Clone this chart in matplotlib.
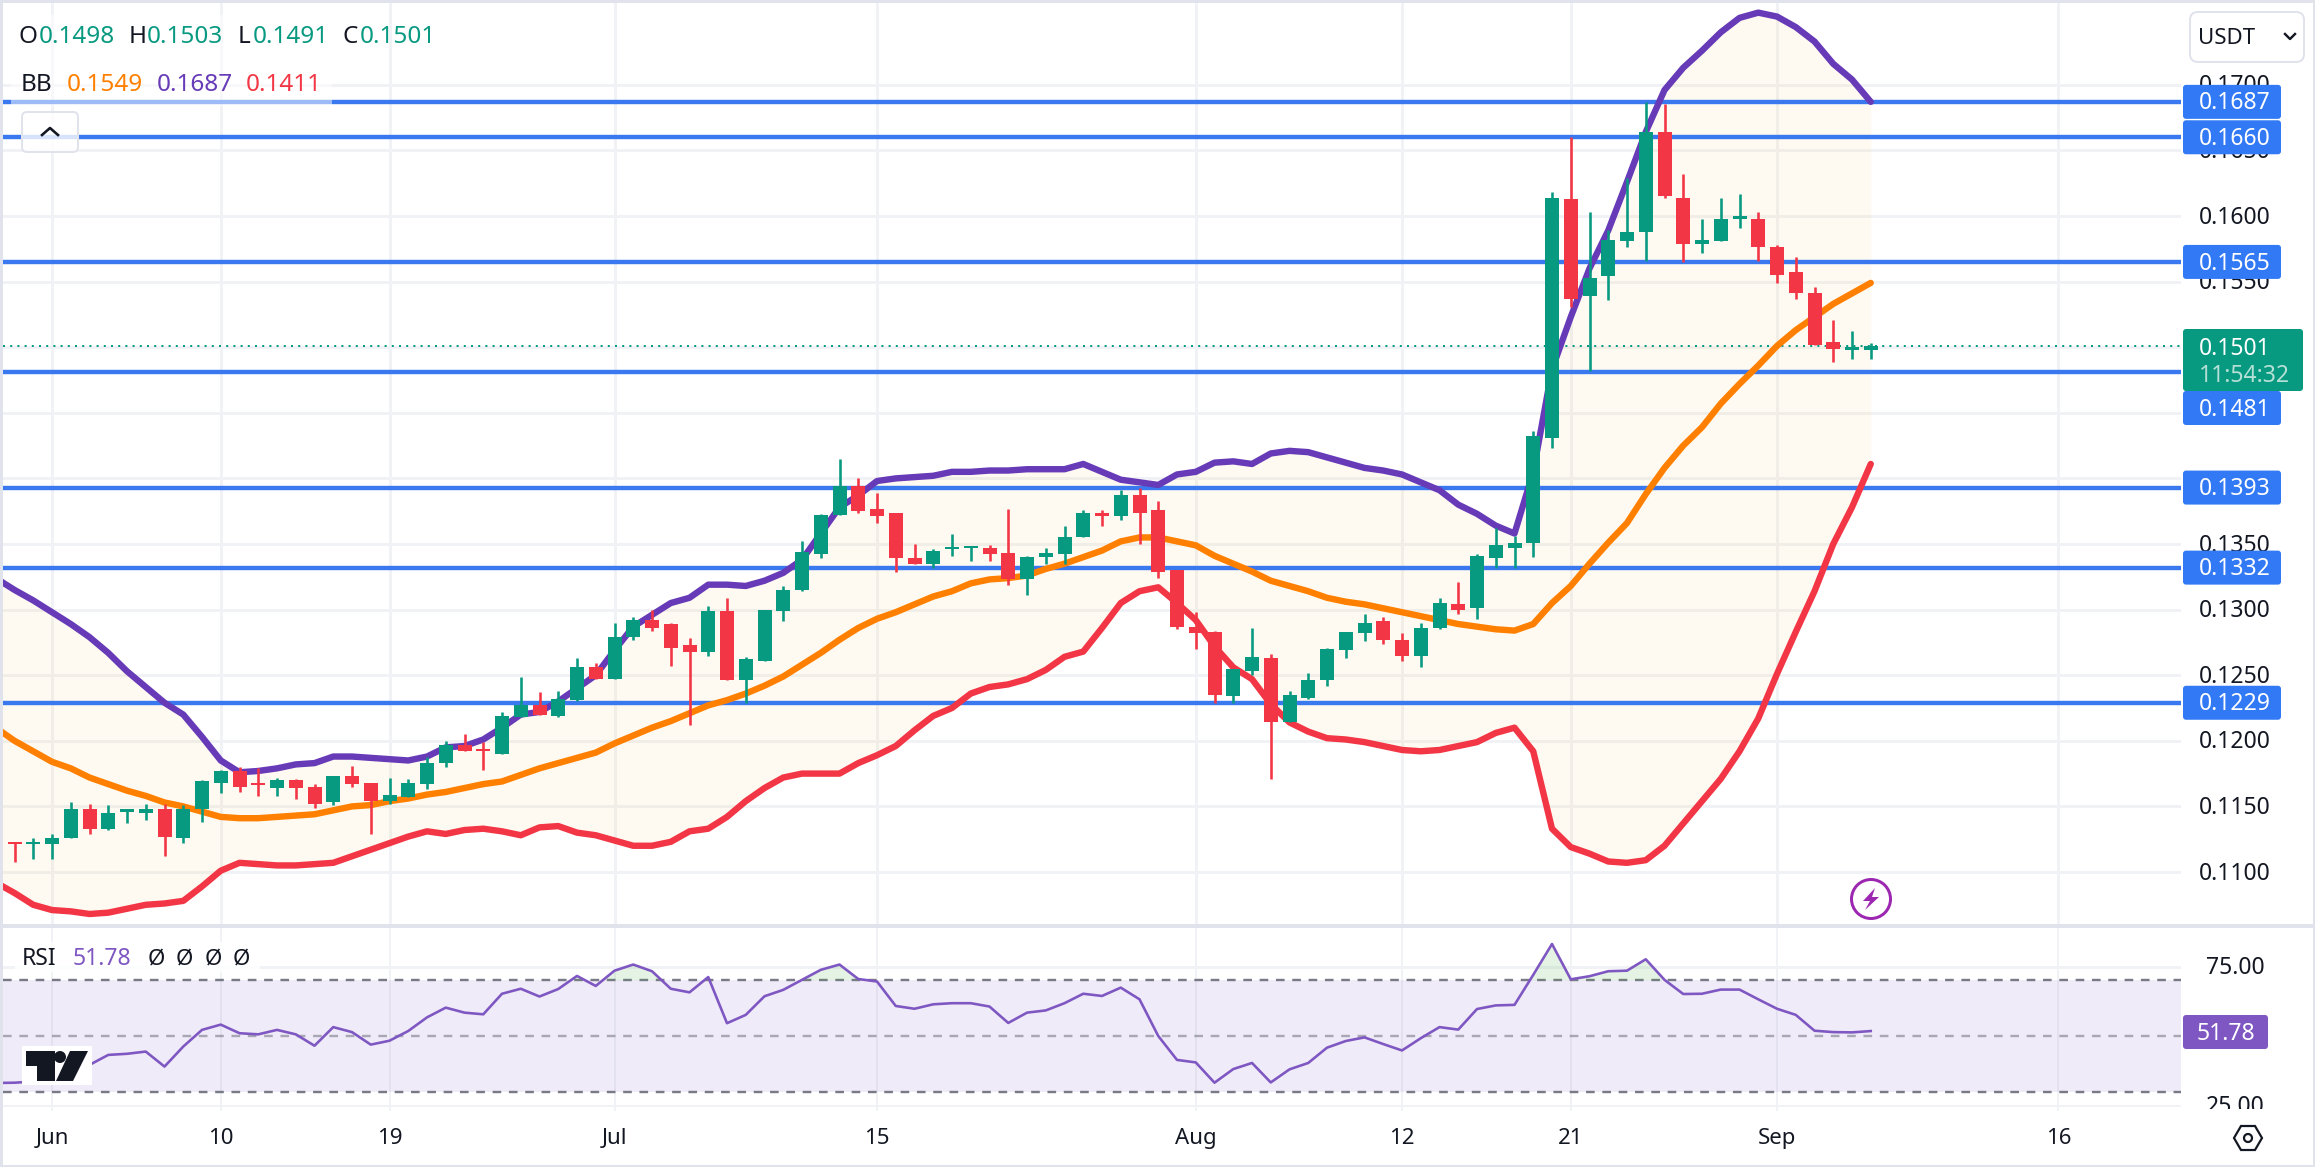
import numpy as np
import matplotlib
matplotlib.use("Agg")
import matplotlib.pyplot as plt
from matplotlib.patches import Rectangle, FancyBboxPatch, Circle, Polygon

W, H = 2315, 1167

# daily candles, first one is 30 May
opens = [0.1122,0.1121,0.1121,0.1126,0.1148,0.1133,0.1146,0.1145,0.1148,0.1126,
         0.1148,0.1168,0.1177,0.1167,0.1164,0.1170,0.1165,0.1153,0.1173,0.1168,
         0.1154,0.1157,0.1167,0.1183,0.1197,0.1193,0.1190,0.1218,0.1227,0.1219,
         0.1231,0.1256,0.1247,0.1279,0.1292,0.1289,0.1273,0.1268,0.1299,0.1246,
         0.1261,0.1299,0.1315,0.1342,0.1372,0.1394,0.1377,0.1374,0.1339,0.1335,
         0.1346,0.1347,0.1347,0.1343,0.1323,0.1340,0.1342,0.1355,0.1374,0.1371,
         0.1387,0.1376,0.1330,0.1287,0.1283,0.1234,0.1253,0.1263,0.1214,0.1233,
         0.1246,0.1269,0.1282,0.1291,0.1277,0.1265,0.1286,0.1304,0.1301,0.1339,
         0.1347,0.1351,0.1431,0.1613,0.1539,0.1554,0.1581,0.1588,0.1664,0.1614,
         0.1579,0.1581,0.1598,0.1598,0.1576,0.1557,0.1541,0.1504,0.1498,0.1498]
highs = [0.1123,0.1126,0.1129,0.1153,0.1152,0.1151,0.1148,0.1152,0.1152,0.1151,
         0.1170,0.1178,0.1180,0.1179,0.1172,0.1171,0.1167,0.1173,0.1181,0.1168,
         0.1172,0.1171,0.1188,0.1200,0.1205,0.1199,0.1222,0.1249,0.1237,0.1238,
         0.1263,0.1259,0.1290,0.1294,0.1300,0.1290,0.1278,0.1303,0.1309,0.1264,
         0.1300,0.1318,0.1352,0.1373,0.1415,0.1400,0.1389,0.1374,0.1350,0.1346,
         0.1358,0.1348,0.1349,0.1377,0.1341,0.1347,0.1364,0.1376,0.1376,0.1391,
         0.1393,0.1383,0.1330,0.1298,0.1284,0.1255,0.1286,0.1266,0.1238,0.1252,
         0.1271,0.1283,0.1297,0.1294,0.1282,0.1290,0.1309,0.1321,0.1342,0.1362,
         0.1356,0.1436,0.1618,0.1660,0.1603,0.1589,0.1629,0.1687,0.1685,0.1632,
         0.1598,0.1614,0.1617,0.1603,0.1578,0.1569,0.1546,0.1521,0.1512,0.1503]
lows = [0.1108,0.1110,0.1110,0.1126,0.1129,0.1132,0.1137,0.1140,0.1112,0.1122,
        0.1138,0.1160,0.1161,0.1158,0.1158,0.1156,0.1149,0.1151,0.1165,0.1129,
        0.1152,0.1157,0.1163,0.1180,0.1192,0.1178,0.1190,0.1218,0.1220,0.1218,
        0.1230,0.1247,0.1247,0.1277,0.1284,0.1257,0.1212,0.1265,0.1246,0.1229,
        0.1261,0.1291,0.1314,0.1339,0.1372,0.1374,0.1366,0.1329,0.1335,0.1332,
        0.1341,0.1337,0.1337,0.1319,0.1311,0.1335,0.1335,0.1355,0.1364,0.1368,
        0.1350,0.1324,0.1285,0.1270,0.1229,0.1229,0.1250,0.1171,0.1214,0.1232,
        0.1242,0.1263,0.1276,0.1274,0.1261,0.1256,0.1285,0.1297,0.1293,0.1332,
        0.1332,0.1340,0.1423,0.1531,0.1482,0.1536,0.1576,0.1566,0.1614,0.1565,
        0.1572,0.1581,0.1591,0.1566,0.1549,0.1537,0.1502,0.1489,0.1491,0.1491]
closes = [0.1121,0.1122,0.1126,0.1148,0.1133,0.1145,0.1147,0.1148,0.1127,0.1148,
          0.1169,0.1177,0.1165,0.1166,0.1170,0.1164,0.1152,0.1173,0.1167,0.1154,
          0.1159,0.1168,0.1183,0.1197,0.1192,0.1192,0.1219,0.1227,0.1220,0.1232,
          0.1256,0.1247,0.1279,0.1292,0.1286,0.1271,0.1268,0.1299,0.1246,0.1262,
          0.1300,0.1315,0.1344,0.1372,0.1394,0.1375,0.1371,0.1339,0.1335,0.1345,
          0.1348,0.1348,0.1342,0.1323,0.1340,0.1343,0.1355,0.1374,0.1371,0.1387,
          0.1374,0.1329,0.1287,0.1282,0.1235,0.1255,0.1264,0.1214,0.1235,0.1246,
          0.1270,0.1283,0.1290,0.1277,0.1265,0.1286,0.1305,0.1300,0.1341,0.1349,
          0.1351,0.1432,0.1614,0.1537,0.1553,0.1582,0.1588,0.1664,0.1615,0.1579,
          0.1582,0.1598,0.1599,0.1576,0.1555,0.1541,0.1502,0.1499,0.1499,0.1501]

# indicators have one more point, the day before the first candle
bb_upper = [0.1324,0.1315,0.1307,0.1298,0.1289,0.1279,0.1267,0.1253,0.1241,0.1229,
            0.1220,0.1203,0.1185,0.1176,0.1177,0.1179,0.1182,0.1183,0.1188,0.1188,
            0.1187,0.1186,0.1185,0.1188,0.1195,0.1196,0.1201,0.1210,0.1220,0.1222,
            0.1230,0.1240,0.1250,0.1269,0.1287,0.1296,0.1305,0.1309,0.1319,0.1319,
            0.1318,0.1322,0.1328,0.1338,0.1358,0.1378,0.1387,0.1398,0.1400,0.1401,
            0.1402,0.1405,0.1405,0.1406,0.1406,0.1407,0.1407,0.1407,0.1411,0.1405,
            0.1399,0.1397,0.1395,0.1403,0.1405,0.1412,0.1413,0.1411,0.1419,0.1421,
            0.1420,0.1416,0.1412,0.1408,0.1406,0.1403,0.1397,0.1391,0.1380,0.1373,
            0.1364,0.1358,0.1405,0.1483,0.1523,0.1560,0.1589,0.1626,0.1664,0.1696,
            0.1713,0.1726,0.1740,0.1751,0.1755,0.1752,0.1744,0.1733,0.1716,0.1704,0.1687]
bb_mid = [0.1210,0.1200,0.1192,0.1184,0.1179,0.1172,0.1167,0.1162,0.1158,0.1153,
          0.1150,0.1146,0.1142,0.1141,0.1141,0.1142,0.1143,0.1144,0.1147,0.1150,
          0.1151,0.1154,0.1156,0.1159,0.1161,0.1164,0.1167,0.1169,0.1174,0.1179,
          0.1183,0.1187,0.1191,0.1198,0.1204,0.1210,0.1215,0.1221,0.1227,0.1231,
          0.1236,0.1242,0.1249,0.1258,0.1267,0.1277,0.1286,0.1293,0.1298,0.1304,
          0.1310,0.1314,0.1320,0.1323,0.1324,0.1326,0.1331,0.1335,0.1340,0.1345,
          0.1352,0.1355,0.1355,0.1352,0.1349,0.1341,0.1335,0.1329,0.1322,0.1318,
          0.1314,0.1309,0.1306,0.1304,0.1301,0.1298,0.1295,0.1292,0.1289,0.1287,
          0.1285,0.1284,0.1289,0.1305,0.1318,0.1335,0.1351,0.1366,0.1388,0.1408,
          0.1425,0.1439,0.1457,0.1472,0.1486,0.1501,0.1513,0.1523,0.1533,0.1541,0.1549]
bb_lower = [0.1092,0.1084,0.1075,0.1071,0.1070,0.1068,0.1069,0.1072,0.1075,0.1076,
            0.1078,0.1089,0.1101,0.1107,0.1106,0.1105,0.1105,0.1106,0.1107,0.1112,
            0.1117,0.1122,0.1127,0.1131,0.1129,0.1132,0.1133,0.1131,0.1128,0.1134,
            0.1135,0.1130,0.1128,0.1124,0.1120,0.1120,0.1123,0.1131,0.1133,0.1142,
            0.1154,0.1164,0.1172,0.1175,0.1175,0.1175,0.1183,0.1189,0.1196,0.1208,
            0.1219,0.1225,0.1236,0.1241,0.1243,0.1247,0.1254,0.1264,0.1268,0.1286,
            0.1305,0.1314,0.1317,0.1305,0.1292,0.1272,0.1256,0.1247,0.1228,0.1214,
            0.1207,0.1202,0.1201,0.1199,0.1196,0.1193,0.1192,0.1193,0.1196,0.1199,
            0.1206,0.1210,0.1192,0.1133,0.1119,0.1114,0.1108,0.1107,0.1109,0.1120,
            0.1137,0.1154,0.1171,0.1192,0.1217,0.1251,0.1283,0.1314,0.1350,0.1378,0.1411]
rsi = [33.1,33.2,33.6,36.0,36.6,39.6,43.2,43.6,44.4,39.0,46.2,52.2,54.1,51.0,50.6,
       52.2,50.6,46.5,53.2,51.4,46.9,48.3,51.8,56.7,60.2,58.4,57.8,65.2,67.0,64.2,
       66.9,71.6,68.0,73.5,75.7,73.3,67.0,65.7,71.2,54.6,57.6,64.3,66.6,70.2,73.8,
       75.7,70.5,69.6,60.8,59.8,61.4,61.8,61.8,60.6,54.7,58.4,59.2,61.8,65.2,64.4,
       67.4,63.2,50.0,41.4,40.5,33.2,38.1,40.3,33.3,38.0,40.3,45.8,48.2,49.5,47.1,
       44.8,49.2,53.2,52.3,59.7,61.0,61.2,72.0,83.1,70.4,71.5,73.3,73.5,77.6,70.2,
       65.1,65.2,66.7,66.7,63.2,59.8,57.6,51.9,51.4,51.3,51.78]

levels = [0.1687, 0.1660, 0.1565, 0.1481, 0.1393, 0.1332, 0.1229]
price_grid = [0.11, 0.115, 0.12, 0.125, 0.13, 0.135, 0.14, 0.145, 0.15, 0.155, 0.16, 0.165, 0.17]
# labels the chart really shows, the others sit fully under a tag
price_ticks = [0.11, 0.115, 0.12, 0.125, 0.13, 0.135, 0.155, 0.16, 0.165, 0.17]
rsi_ticks = [75, 25]
date_pos = [2, 11, 20, 32, 46, 63, 74, 83, 94, 109]
date_labels = ["Jun", "10", "19", "Jul", "15", "Aug", "12", "21", "Sep", "16"]
last_price = 0.1501

GREEN = "#089981"
RED = "#F23645"
BLUE = "#3a78f0"
PURPLE = "#673AB7"
ORANGE = "#FF8000"
RSI_COL = "#7E57C2"
GRID = "#f1f2f5"
DARK = "#131722"
FRAME = "#E0E3EB"

plt.rcParams["font.family"] = ["Noto Sans", "DejaVu Sans"]


def px_rect(x0, y0, x1, y1):
    return [x0 / W, 1 - y1 / H, (x1 - x0) / W, (y1 - y0) / H]


def price_y(p):
    return 216 + (0.16 - p) * 13120


def rsi_y(v):
    return 1036 + (50 - v) * 2.78


def pt(px):
    return px * 72 / 100


fig = plt.figure(figsize=(W / 100, H / 100), dpi=100, facecolor="white")

ax = fig.add_axes(px_rect(3, 3, 2181, 924))
ax2 = fig.add_axes(px_rect(3, 927, 2181, 1107))
xlim = ((3 - 14.5) / 18.75, (2181 - 14.5) / 18.75)

idx = np.arange(len(opens))
idx_ind = np.arange(-1, len(opens))
o, h, l, c = map(np.array, (opens, highs, lows, closes))
up = c >= o
cols = np.where(up, GREEN, RED)

# main pane
ax.set_xlim(*xlim)
ax.set_ylim(0.16 - (924 - 216) / 13120, 0.16 - (3 - 216) / 13120)
ax.axis("off")
for p in price_grid:
    ax.axhline(p, color=GRID, lw=pt(3), zorder=1)
for d in date_pos:
    ax.axvline(d, color=GRID, lw=pt(3), zorder=1)
ax.fill_between(idx_ind, bb_lower, bb_upper, color="#FFB300", alpha=0.055, lw=0, zorder=2)
for lv in levels:
    ax.axhline(lv, color=BLUE, lw=pt(4.4), zorder=3)
ax.axhline(last_price, color=GREEN, lw=pt(2), ls=(0, (1, 2.6)), zorder=3.5)
ax.plot(idx_ind, bb_upper, color=PURPLE, lw=pt(6.4), zorder=4, solid_capstyle="round", solid_joinstyle="round")
ax.plot(idx_ind, bb_mid, color=ORANGE, lw=pt(6.4), zorder=4, solid_capstyle="round", solid_joinstyle="round")
ax.plot(idx_ind, bb_lower, color=RED, lw=pt(6.4), zorder=4, solid_capstyle="round", solid_joinstyle="round")
ax.vlines(idx, l, h, colors=cols, lw=pt(2.6), zorder=5)
ax.bar(idx, np.maximum(np.abs(c - o), 0.00018), bottom=np.minimum(o, c), width=14 / 18.75, color=cols, lw=0, zorder=6)

# rsi pane
ax2.set_xlim(*xlim)
ax2.set_ylim(50 + (1036 - 1107) / 2.78, 50 + (1036 - 927) / 2.78)
ax2.axis("off")
for d in date_pos:
    ax2.axvline(d, color=GRID, lw=pt(2), zorder=1)
for v in rsi_ticks:
    ax2.axhline(v, color=GRID, lw=pt(3), zorder=1)
ax2.axhspan(30, 70, color=RSI_COL, alpha=0.115, lw=0, zorder=2)
ax2.axhline(70, color="#787B86", lw=pt(2.4), ls=(0, (3.6, 3.2)), zorder=3)
ax2.axhline(50, color="#787B86", lw=pt(2.4), ls=(0, (3.6, 3.2)), alpha=0.6, zorder=3)
ax2.axhline(30, color="#787B86", lw=pt(2.4), ls=(0, (3.6, 3.2)), zorder=3)
rsi_arr = np.array(rsi)
ax2.fill_between(idx_ind, 70, rsi_arr, where=rsi_arr > 70, interpolate=True, color="#4CAF50", alpha=0.15, lw=0, zorder=3)
ax2.plot(idx_ind, rsi_arr, color=RSI_COL, lw=pt(2.6), zorder=4)

# everything around the panes, in pixel coordinates
deco = fig.add_axes([0, 0, 1, 1], zorder=10)
deco.set_xlim(0, W)
deco.set_ylim(H, 0)
deco.axis("off")


def label(x, y, txt, **kw):
    # noto sits a little high compared to the original font
    kw.setdefault("va", "center")
    return deco.text(x, y + 1.6, txt, **kw)


for x0, y0, x1, y1 in [(0, 0, W, 3), (0, 0, 3, H), (2313, 0, W, H), (0, 1165, W, H), (3, 924, 2313, 927.5)]:
    deco.add_patch(Rectangle((x0, y0), x1 - x0, y1 - y0, color=FRAME, lw=0, zorder=1))

# date ticks
for d, lab in zip(date_pos, date_labels):
    xp = 14.5 + 18.75 * d
    deco.plot([xp, xp], [1107, 1110], color=GRID, lw=pt(2), zorder=1)
    label(xp, 1137, lab, ha="center", fontsize=16, color=DARK, zorder=2)

# price ticks, the tags go over them
for p in price_ticks:
    label(2235, price_y(p), f"{p:.4f}", ha="center", fontsize=16.5, color=DARK, zorder=2)
label(2235, rsi_y(75), "75.00", ha="center", fontsize=16.5, color=DARK, zorder=2)
t25 = label(2235, rsi_y(25), "25.00", ha="center", fontsize=16.5, color=DARK, zorder=2)
t25.set_clip_path(Rectangle((2183, 1080), 120, 29, transform=deco.transData))
t25.set_clip_on(True)


def tag(x0, x1, yc, hgt, col, txt, z=3):
    deco.add_patch(FancyBboxPatch((x0 + 2, yc - hgt / 2 + 2), x1 - x0 - 4, hgt - 4,
                                  boxstyle="round,pad=2,rounding_size=3", fc=col, ec="none", zorder=z))
    label(2235, yc, txt, ha="center", fontsize=16.5, color="white", zorder=z + 0.1)


for lv in levels:
    yc = price_y(lv)
    if lv == 0.1481:
        yc = 408  # pushed down by the last price tag
    tag(2183, 2281, yc, 34, "#3179F5", f"{lv:.4f}")

deco.add_patch(FancyBboxPatch((2185, 331), 116, 58, boxstyle="round,pad=2,rounding_size=3", fc=GREEN, ec="none", zorder=4))
label(2199, 347, f"{last_price:.4f}", ha="left", fontsize=16.5, color="white", zorder=5)
label(2199, 374, "11:54:32", ha="left", fontsize=16.5, color="#b5e0d6", zorder=5)

deco.add_patch(FancyBboxPatch((2185, 1017), 81, 30, boxstyle="round,pad=2,rounding_size=3", fc=RSI_COL, ec="none", zorder=3))
label(2226, 1032, "51.78", ha="center", fontsize=16.5, color="white", zorder=4)

# currency box
deco.add_patch(FancyBboxPatch((2193, 15), 108, 44, boxstyle="round,pad=3,rounding_size=8", fc="white", ec=FRAME, lw=pt(2), zorder=3))
label(2198, 37, "USDT", ha="left", fontsize=16, color=DARK, zorder=4)
deco.plot([2285, 2290, 2295], [34, 39, 34], color=DARK, lw=pt(2.4), zorder=4)

# legend
deco.add_patch(Rectangle((11, 15), 321, 91, color="white", alpha=0.5, lw=0, zorder=1))
for x, txt, col in [(19, "O", DARK), (39, "0.1498", GREEN), (129, "H", DARK), (147, "0.1503", GREEN),
                    (238, "L", DARK), (253, "0.1491", GREEN), (342, "C", DARK), (360, "0.1501", GREEN)]:
    label(x, 35, txt, ha="left", fontsize=17.5, color=col, zorder=2)
for x, txt, col in [(21, "BB", DARK), (67, "0.1549", ORANGE), (157, "0.1687", PURPLE), (246, "0.1411", RED)]:
    label(x, 83, txt, ha="left", fontsize=17.5, color=col, zorder=2)

deco.add_patch(FancyBboxPatch((24, 114), 52, 36, boxstyle="round,pad=2,rounding_size=5", fc=(1, 1, 1, 0.8), ec=FRAME, lw=pt(2), zorder=2))
deco.plot([42, 50, 58], [135, 128, 135], color=DARK, lw=pt(2.6), zorder=3)

deco.add_patch(Rectangle((15, 942), 245, 30, color="white", alpha=0.85, lw=0, zorder=1))
label(22, 957, "RSI", ha="left", fontsize=16.5, color=DARK, zorder=2)
label(73, 957, "51.78", ha="left", fontsize=16.5, color=RSI_COL, zorder=2)
for x in [156, 184, 213, 241]:
    label(x, 957, "\u00d8", ha="center", fontsize=16, color=DARK, zorder=2)

# tradingview logo
deco.add_patch(Rectangle((22, 1046), 70, 39, color="white", lw=0, zorder=2))
deco.add_patch(Polygon([(26, 1051), (55, 1051), (55, 1081), (37, 1081), (37, 1066), (26, 1066)], color=DARK, lw=0, zorder=3))
deco.add_patch(Circle((60, 1057), 6, color=DARK, lw=0, zorder=3))
deco.add_patch(Polygon([(70, 1051), (88, 1051), (73, 1081), (56, 1081)], color=DARK, lw=0, zorder=3))

# lightning icon
deco.add_patch(Circle((1871, 899), 19.5, fc="white", ec="#9C27B0", lw=pt(3), zorder=3))
deco.add_patch(Polygon([(1875, 888), (1863, 901), (1870, 901), (1865, 910), (1879, 897), (1872, 897)], color="#9C27B0", lw=0, zorder=4))

# settings icon
deco.add_patch(Polygon([(2234, 1138), (2241, 1126), (2255, 1126), (2262, 1138), (2255, 1150), (2241, 1150)],
                       fc="white", ec=DARK, lw=pt(2.2), zorder=3))
deco.add_patch(Circle((2248, 1138), 4, fc="white", ec=DARK, lw=pt(2.2), zorder=4))

fig.savefig("out.png", dpi=100)
plt.close(fig)
